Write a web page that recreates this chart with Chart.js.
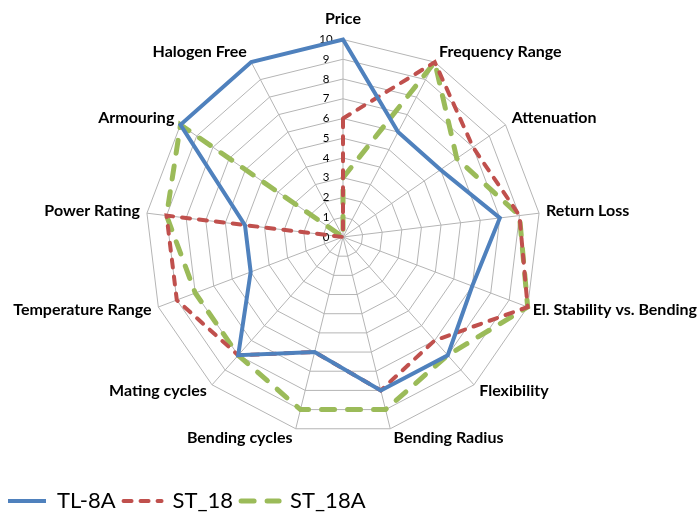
<!DOCTYPE html>
<html>
<head>
<meta charset="utf-8">
<script src="https://cdn.jsdelivr.net/npm/chart.js@4.4.0/dist/chart.umd.min.js"></script>
<style>
html, body { margin: 0; padding: 0; background: #fff; }
</style>
</head>
<body>
<canvas id="chartCanvas" width="699" height="515"></canvas>
<script>
const categories = [
    "Price", "Frequency Range", "Attenuation", "Return Loss",
    "El. Stability vs. Bending", "Flexibility", "Bending Radius",
    "Bending cycles", "Mating cycles", "Temperature Range",
    "Power Rating", "Armouring", "Halogen Free"
];
const tl8a = [10, 6, 6, 8, 7, 8, 8, 6, 8, 5, 5, 10, 10];
const st18 = [6, 10, 8, 9, 10, 7, 8, 6, 8, 9, 9, 0, 0];
const st18a = [3, 10, 7, 9, 10, 8, 9, 9, 8, 8, 9, 10, 0];
const tickMin = 0;
const tickMax = 10;

// plot geometry (the original is not centred in the canvas)
const plotX = 343;
const plotY = 237;
const plotR = 197.5;

// tick numbers sit a bit left of the vertical axis, like the original
const tickLabels = {
    id: "tickLabels",
    beforeDatasetsDraw(chart) {
        const r = chart.scales.r;
        const ctx = chart.ctx;
        ctx.save();
        ctx.font = "11.5px Lato";
        ctx.fillStyle = "#000";
        ctx.textAlign = "center";
        ctx.textBaseline = "middle";
        r.ticks.forEach(function (t) {
            const d = r.getDistanceFromCenterForValue(t.value);
            ctx.fillText(String(t.value), r.xCenter - 17, r.yCenter - d);
        });
        ctx.restore();
    }
};

// category labels placed Excel-style next to the outer ring
const axisLabels = {
    id: "axisLabels",
    beforeDatasetsDraw(chart) {
        const r = chart.scales.r;
        const ctx = chart.ctx;
        ctx.save();
        ctx.font = "bold 16px Lato";
        ctx.fillStyle = "#000";
        ctx.textBaseline = "middle";
        chart.data.labels.forEach(function (label, i) {
            const a = r.getIndexAngle(i);
            const p = r.getPointPosition(i, r.drawingArea);
            const s = Math.sin(a);
            const c = Math.cos(a);
            if (Math.abs(s) < 0.01) {
                ctx.textAlign = "center";
                ctx.fillText(label, p.x, p.y - 21);
                return;
            }
            const w = ctx.measureText(label).width;
            let x = p.x + 5 * s + (s > 0 ? 2 : -2);
            if (s > 0) {
                x = Math.min(x, chart.width - 2 - w);
                ctx.textAlign = "left";
            } else {
                x = Math.max(x, w + 2);
                ctx.textAlign = "right";
            }
            ctx.fillText(label, x, p.y - 10 * c - 1);
        });
        ctx.restore();
    }
};

const ctx = document.getElementById("chartCanvas").getContext("2d");

const config = {
    type: "radar",
    data: {
        labels: categories,
        datasets: [
            {
                label: "TL-8A",
                data: tl8a,
                borderColor: "#4F81BD",
                borderWidth: 4,
                fill: false,
                pointRadius: 0,
                pointHoverRadius: 0
            },
            {
                label: "ST_18",
                data: st18,
                borderColor: "#C0504D",
                borderWidth: 4,
                borderDash: [8, 9],
                borderCapStyle: "round",
                fill: false,
                pointRadius: 0,
                pointHoverRadius: 0
            },
            {
                label: "ST_18A",
                data: st18a,
                borderColor: "#9BBB59",
                borderWidth: 5,
                borderDash: [13, 13],
                borderCapStyle: "round",
                fill: false,
                pointRadius: 0,
                pointHoverRadius: 0
            }
        ]
    },
    options: {
        responsive: false,
        animation: false,
        devicePixelRatio: 1,
        layout: {
            padding: { top: 0, left: 0, right: 0, bottom: -7 }
        },
        scales: {
            r: {
                min: tickMin,
                max: tickMax,
                ticks: { stepSize: 1, display: false },
                grid: { color: "#B5B5B5", lineWidth: 1 },
                angleLines: { color: "#B5B5B5", lineWidth: 1 },
                pointLabels: { display: false },
                afterFit: function (scale) {
                    scale.xCenter = plotX;
                    scale.yCenter = plotY;
                    scale.drawingArea = plotR;
                }
            }
        },
        plugins: {
            legend: {
                position: "bottom",
                align: "start",
                labels: {
                    usePointStyle: true,
                    pointStyle: "line",
                    pointStyleWidth: 38,
                    color: "#000",
                    padding: 8,
                    font: { family: "Lato", size: 22 },
                    // keep the dataset's dash pattern in the legend sample
                    generateLabels: function (chart) {
                        const items = Chart.defaults.plugins.legend.labels.generateLabels(chart);
                        items.forEach(function (item) {
                            const ds = chart.data.datasets[item.datasetIndex];
                            item.lineDash = ds.borderDash || [];
                            item.lineWidth = ds.borderWidth;
                            item.strokeStyle = ds.borderColor;
                            item.lineCap = ds.borderCapStyle || "butt";
                        });
                        return items;
                    }
                }
            },
            tooltip: { enabled: false }
        }
    },
    plugins: [tickLabels, axisLabels]
};

const chart = new Chart(ctx, config);
</script>
</body>
</html>
